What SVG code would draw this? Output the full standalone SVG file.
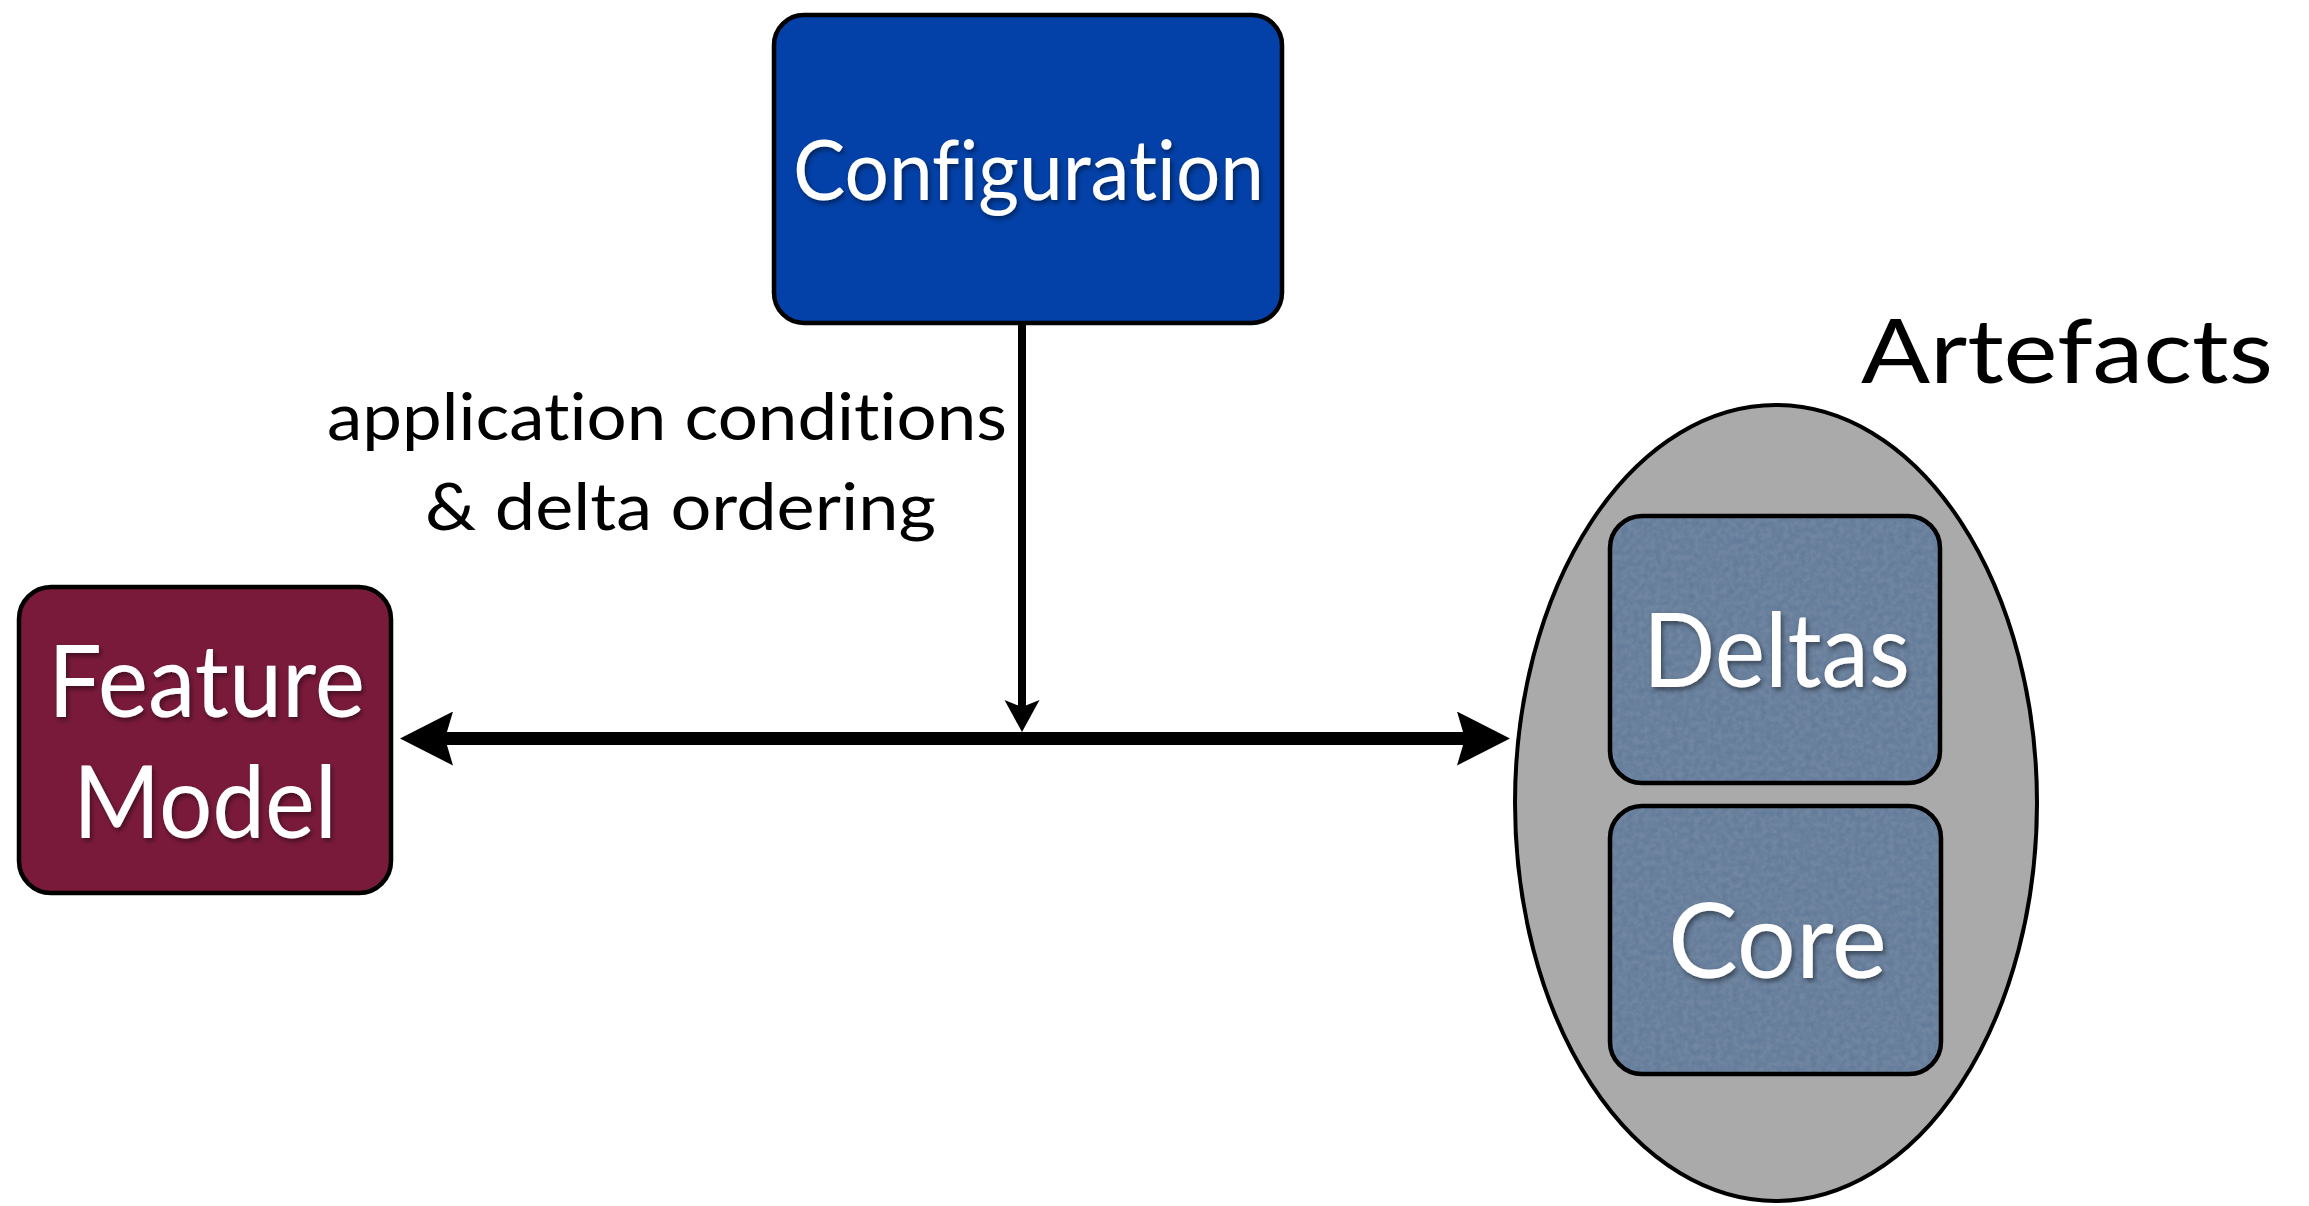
<svg xmlns="http://www.w3.org/2000/svg" width="2309" height="1206" viewBox="0 0 2309 1206">
  <defs>
    <style>
      text { font-variant-ligatures: none; font-feature-settings: "liga" 0, "clig" 0; }
      .box { stroke: #000; stroke-width: 4.5; }
      .label-white { font-family: Lato, "Liberation Sans", sans-serif; fill: #ffffff; filter: url(#textShadow); }
      .label-black { font-family: Lato, "Liberation Sans", sans-serif; fill: #000000; }
      .conn { stroke: #000; fill: none; }
    </style>
    <filter id="textShadow" x="-10%" y="-30%" width="120%" height="160%">
      <feDropShadow dx="2" dy="3" stdDeviation="2.5" flood-color="#000" flood-opacity="0.45"/>
    </filter>
    <!-- slate-blue paper grain for the artefact tiles -->
    <filter id="grain" x="0" y="0" width="100%" height="100%">
      <feTurbulence type="fractalNoise" baseFrequency="0.18" numOctaves="3" seed="7" result="noise"/>
      <feColorMatrix in="noise" type="matrix" values="0 0 0 0 1  0 0 0 0 1  0 0 0 0 1  0 0 0 0.09 0" result="speck"/>
      <feComposite in="speck" in2="SourceGraphic" operator="in" result="speckIn"/>
      <feMerge><feMergeNode in="SourceGraphic"/><feMergeNode in="speckIn"/></feMerge>
    </filter>
    <marker id="headBig" viewBox="0 -27 53 54" markerWidth="53" markerHeight="54" refX="8" refY="0" orient="auto-start-reverse" markerUnits="userSpaceOnUse">
      <path d="M0,-27 L53,0 L0,27 L8,0 Z" fill="#000"/>
    </marker>
    <marker id="headSmall" viewBox="0 -18 32 36" markerWidth="32" markerHeight="36" refX="7" refY="0" orient="auto" markerUnits="userSpaceOnUse">
      <path d="M0,-17.5 L32,0 L0,17.5 L7,0 Z" fill="#000"/>
    </marker>
  </defs>

  <rect width="2309" height="1206" fill="#ffffff"/>

  <!-- Artefacts container -->
  <g id="artefacts">
    <ellipse cx="1776" cy="803" rx="261" ry="398" fill="#aaaaaa" stroke="#000" stroke-width="4"/>
    <text class="label-black" x="1861" y="383" font-size="89" textLength="412" lengthAdjust="spacingAndGlyphs">Artefacts</text>
  </g>

  <g id="deltas">
    <rect x="1610" y="516" width="330" height="267" rx="32" fill="#5c7797" filter="url(#grain)"/>
    <rect class="box" x="1610" y="516" width="330" height="267" rx="32" fill="none"/>
    <text class="label-white" x="1643" y="687" font-size="103" textLength="267" lengthAdjust="spacingAndGlyphs">Deltas</text>
  </g>

  <g id="core">
    <rect x="1610" y="806" width="331" height="268" rx="32" fill="#5c7797" filter="url(#grain)"/>
    <rect class="box" x="1610" y="806" width="331" height="268" rx="32" fill="none"/>
    <text class="label-white" x="1668" y="978" font-size="104" textLength="219" lengthAdjust="spacingAndGlyphs">Core</text>
  </g>

  <g id="configuration">
    <rect class="box" x="774" y="15" width="508" height="308" rx="30" fill="#0341a8"/>
    <text class="label-white" x="793" y="200" font-size="84" textLength="471" lengthAdjust="spacingAndGlyphs">Configuration</text>
  </g>

  <g id="feature-model">
    <rect class="box" x="19" y="587" width="372" height="306" rx="32" fill="#7a1a3b"/>
    <text class="label-white" x="48" y="717" font-size="100" textLength="317" lengthAdjust="spacingAndGlyphs">Feature</text>
    <text class="label-white" x="73" y="838" font-size="100" textLength="264" lengthAdjust="spacingAndGlyphs">Model</text>
  </g>

  <!-- connectors -->
  <g id="connectors">
    <path class="conn" d="M445,738.5 L1465,738.5" stroke-width="13" marker-start="url(#headBig)" marker-end="url(#headBig)"/>
    <path class="conn" d="M1022,325 L1022,707" stroke-width="8" marker-end="url(#headSmall)"/>
    <text class="label-black" x="327" y="440" font-size="66" textLength="680" lengthAdjust="spacingAndGlyphs">application conditions</text>
    <text class="label-black" x="425" y="530" font-size="66" textLength="511" lengthAdjust="spacingAndGlyphs">&amp; delta ordering</text>
  </g>
</svg>
